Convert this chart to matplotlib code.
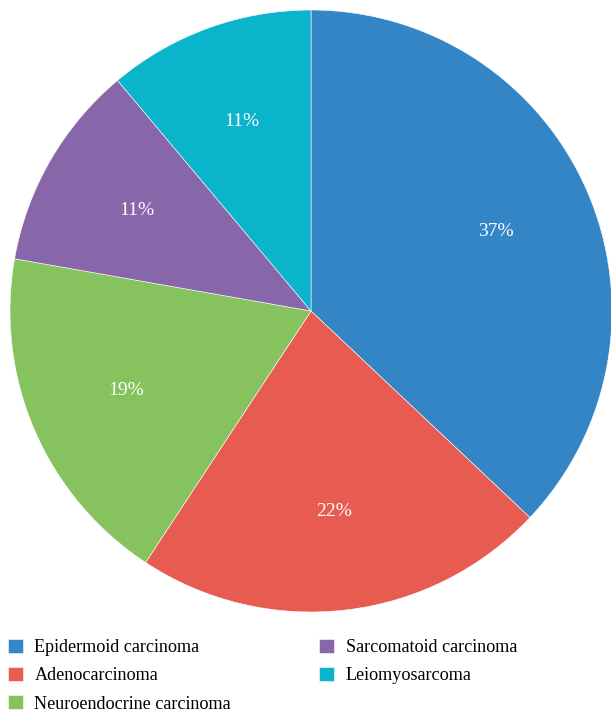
import matplotlib.pyplot as plt

plt.rcParams["font.family"] = ["Liberation Serif", "DejaVu Serif"]

labels = [
    "Epidermoid carcinoma",
    "Adenocarcinoma",
    "Neuroendocrine carcinoma",
    "Sarcomatoid carcinoma",
    "Leiomyosarcoma",
]
counts = [10, 6, 5, 3, 3]
colors = ["#3385C6", "#E85B50", "#86C25E", "#8866AA", "#0AB4CB"]

W, H = 611, 716
fig = plt.figure(figsize=(W / 100, H / 100), dpi=100)

# pie centre (311, 311) px, radius 301 px
cx, cy, r = 311, 311, 301
ax = fig.add_axes([(cx - r) / W, (H - cy - r) / H, 2 * r / W, 2 * r / H])

wedges, texts, autotexts = ax.pie(
    counts,
    colors=colors,
    startangle=90,
    counterclock=False,
    autopct=lambda p: "%d%%" % round(p),
    pctdistance=0.67,
    radius=1,
    wedgeprops=dict(edgecolor="white", linewidth=0.4),
    textprops=dict(color="white", fontsize=14),
)
ax.set_xlim(-1, 1)
ax.set_ylim(-1, 1)
ax.set_aspect("equal")
ax.axis("off")

fig.legend(
    wedges,
    labels,
    loc="upper left",
    bbox_to_anchor=(8 / W, 1 - 639 / H),
    ncol=2,
    frameon=False,
    fontsize=13.1,
    handlelength=0.8,
    handleheight=0.8,
    handletextpad=0.65,
    labelspacing=0.6,
    columnspacing=4.85,
    borderpad=0,
    borderaxespad=0,
)

fig.savefig("out.png", dpi=100)
